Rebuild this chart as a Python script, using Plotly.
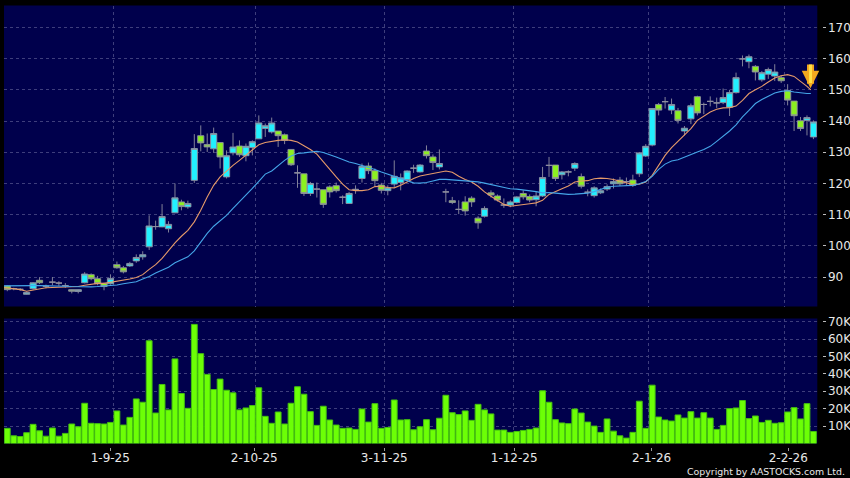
import plotly.graph_objects as go

opens = [87.2,86.3,86.1,84.5,86.3,89.0,87.1,88.4,88.1,87.3,86.0,85.4,88.2,90.8,89.5,88.0,87.9,94.0,93.0,93.6,95.2,96.5,
 99.7,106.2,106.1,105.5,110.6,114.1,112.5,121.0,135.3,132.5,131.1,133.1,122.1,129.8,132.0,128.9,131.5,134.3,137.6,136.5,
 136.8,135.6,130.9,123.4,123.1,116.8,118.2,118.0,118.9,119.3,115.6,113.6,118.1,121.6,125.6,124.1,119.5,117.7,119.8,120.3,
 121.2,124.9,123.7,130.4,128.5,125.3,117.3,114.5,111.7,114.1,115.3,108.9,109.5,117.0,116.0,113.1,113.1,113.9,116.8,115.8,
 114.8,116.0,125.8,125.9,122.8,123.7,124.9,122.2,117.2,116.1,117.0,118.2,119.9,121.1,120.6,121.1,123.1,128.8,132.3,145.3,
 146.2,143.5,143.3,136.8,140.7,147.8,145.3,146.3,145.8,145.9,144.4,149.1,159.9,159.0,157.5,153.2,155.0,154.4,153.9,149.8,
 146.4,140.1,140.2,134.9]
closes = [86.0,86.3,86.1,85.1,88.2,88.2,87.1,88.4,88.1,87.3,85.5,86.0,91.0,89.5,87.9,87.0,89.6,93.0,91.7,94.4,96.3,97.2,
 106.4,106.2,109.4,106.9,115.4,112.6,113.6,131.2,133.0,131.7,136.0,128.5,128.9,131.7,129.2,131.9,133.4,139.4,138.5,139.4,
 135.3,133.8,126.0,123.4,116.8,120.0,118.2,113.3,117.3,117.7,115.6,116.8,118.1,125.5,124.1,120.9,117.8,118.6,122.3,121.8,
 124.0,124.9,125.9,128.9,126.7,126.4,117.3,113.9,111.7,111.2,114.1,107.4,112.0,116.3,114.7,113.1,114.1,115.7,115.7,114.7,
 116.0,121.9,125.8,121.6,123.7,123.7,126.4,119.1,117.2,118.6,117.7,119.0,120.6,119.9,120.6,119.4,129.8,131.9,144.0,143.5,
 146.2,145.3,140.2,137.7,144.9,142.6,145.3,146.3,145.8,147.5,149.1,153.9,159.9,160.6,155.7,155.5,156.5,155.7,152.9,146.7,
 141.7,137.6,141.1,139.7]
highs = [87.4,86.6,86.5,85.4,88.4,90.0,87.6,90.0,88.7,88.1,86.1,86.1,91.6,91.2,90.4,88.2,90.9,95.0,93.6,94.9,97.3,98.3,
 109.8,108.1,113.4,107.9,120.0,114.8,114.5,135.8,138.6,136.0,137.9,133.1,130.6,136.2,133.8,132.8,133.8,141.8,139.2,141.1,
 136.8,136.0,130.9,125.8,123.1,120.5,120.3,118.0,119.4,120.3,116.2,117.3,119.4,126.4,126.7,124.8,120.2,119.4,127.4,123.2,
 124.2,126.0,126.2,132.2,129.3,130.9,118.3,115.7,114.6,115.9,115.9,109.5,112.7,117.8,116.5,115.2,114.6,115.9,117.8,116.5,
 117.3,125.3,128.5,125.9,124.0,124.2,126.8,123.2,118.1,119.1,118.4,119.7,121.6,122.1,121.9,122.8,130.1,132.6,144.0,145.8,
 147.7,147.2,144.2,138.4,145.6,148.1,145.9,147.9,147.5,150.4,150.0,155.5,161.0,161.3,157.9,156.0,157.1,158.2,154.7,151.8,
 146.4,141.3,141.8,140.2]
lows = [85.5,85.8,85.6,84.4,86.0,87.8,86.4,87.4,87.2,86.6,84.8,84.8,88.0,89.0,87.4,85.8,87.6,92.7,91.2,93.3,94.6,95.6,
 98.7,105.2,106.0,104.3,110.5,111.4,111.9,120.2,130.3,130.1,129.8,124.8,121.6,129.0,128.5,127.1,129.0,134.3,134.9,136.0,
 131.7,132.6,125.6,118.6,116.0,116.0,115.5,112.2,115.5,117.1,113.4,113.5,116.7,120.3,123.0,119.1,116.8,116.2,118.9,117.8,
 120.7,123.4,123.5,128.0,124.3,124.5,114.0,113.4,110.2,109.7,112.5,105.5,109.1,115.5,114.2,112.2,112.4,113.6,114.9,114.0,
 112.7,115.7,122.1,120.8,121.3,122.3,124.0,118.4,115.9,115.5,116.6,117.6,118.4,119.2,119.3,118.9,122.1,128.5,131.9,141.8,
 144.0,142.2,139.2,135.4,139.0,141.8,142.2,144.7,144.2,145.4,141.6,148.8,157.5,156.9,153.0,152.6,153.5,152.8,152.2,145.0,
 136.8,136.8,135.4,134.2]
volumes = [8.7,4.4,4.0,6.2,11,7.3,4.2,8.9,4.2,5.8,11.2,9.6,23.1,11.6,11.4,11.2,12.1,18.7,10.6,15,25.6,23.7,59,17.5,33.9,19.3,
 48.6,28.7,20.2,68.4,51.6,39.7,31,37,30.6,29.1,19.3,20.4,21.8,32,15.6,11.6,18.1,11.2,23.1,32.6,28.3,18.3,10.4,21.4,13.5,10.6,
 8.7,8.9,8.1,19.8,12.3,22.9,8.7,9.2,25,13.5,13.7,7.9,9.6,13.7,7.9,14.5,27.7,17.7,16.6,18.7,13.3,22.5,19.3,17,7.7,7.7,6.4,6.9,
 7.5,8.1,8.9,30.3,23.7,13.7,11.8,11.4,19.8,17.5,12.3,10,6.4,14.1,7.1,4.4,3.1,6.4,24.3,8.7,33.5,15.2,13.5,12.9,16.4,14.6,18.3,
 14.6,17.7,14.6,8.1,10.4,20,20.4,24.7,14.3,15.8,12.1,13.3,11.6,11.9,18.1,20.6,14.1,22.9,6.9]
ma_fast = [86.7,86.4,86.0,85.5,85.9,86.3,86.6,86.7,86.8,87.0,87.0,87.0,87.4,87.8,88.0,88.0,88.3,88.7,89.0,89.4,89.9,90.8,92.5,
 94.0,96.0,98.6,101.0,103.1,105.0,107.7,111.4,115.7,119.4,122.1,124.0,125.8,127.4,129.0,130.8,132.4,133.1,133.5,133.8,134.0,
 133.8,133.3,132.2,130.9,129.4,126.9,124.5,122.1,119.8,118.0,117.7,117.7,118.0,119.0,119.1,118.7,118.6,119.4,120.5,121.6,
 122.4,122.8,123.2,123.7,124.0,123.6,122.3,121.3,120.5,119.1,117.3,115.9,114.6,113.3,112.7,112.9,113.3,113.5,113.8,114.6,
 116.5,117.3,118.3,119.2,120.5,120.8,120.9,121.5,121.7,121.6,121.3,120.7,120.2,119.7,119.8,120.5,122.6,125.8,129.0,131.5,
 133.6,135.4,137.6,140.2,141.7,142.9,143.8,144.2,144.3,144.8,146.6,148.8,150.0,151.1,152.5,153.8,154.5,154.85,154.3,152.8,
 151.1,150.0]
ma_slow = [87.2,87.3,87.3,87.3,87.3,87.3,87.3,87.2,87.2,87.1,87.0,86.9,86.9,86.9,87.0,87.1,87.3,87.5,87.9,88.1,88.5,89.4,90.2,
 91.3,92.2,93.2,94.6,95.6,96.5,98.4,101.3,104.0,106.3,108.0,109.8,112.0,114.1,116.0,118.4,120.7,123.0,124.0,125.8,127.4,128.8,
 129.6,129.8,130.0,130.3,129.9,129.3,128.5,127.7,126.9,126.4,125.8,125.1,124.5,123.7,123.0,122.3,121.6,120.7,120.2,120.1,
 120.3,120.8,121.3,121.3,121.15,121.05,120.9,120.7,120.5,120.1,119.7,119.2,118.7,118.3,118.2,118.0,117.7,117.4,117.0,117.1,
 116.9,116.6,116.5,116.6,116.7,116.9,117.4,118.2,118.8,119.1,119.2,119.2,119.4,119.9,120.6,122.3,124.5,126.2,127.2,127.6,
 128.5,129.4,130.1,130.9,131.9,133.5,135.1,136.8,138.8,141.3,143.4,145.6,146.9,147.9,149.0,149.5,149.7,149.3,149.0,148.8,148.8]
price_ticks = [90,100,110,120,130,140,150,160,170]
volume_ticks = [10,20,30,40,50,60,70]
volume_labels = ["10K","20K","30K","40K","50K","60K","70K"]
date_labels = ["1-9-25","2-10-25","3-11-25","1-12-25","2-1-26","2-2-26"]
date_positions = [15.97,38.3,58.45,78.6,99.9,121.1]
date_grid = [16.45,38.5,58.45,78.45,99.5,120.47]

W, H = 850, 478
PX0, PX1 = 4.0, 817.3
n = len(closes)
idx = list(range(n))
ma_x = [-0.5] + idx[1:-1] + [124.6]

NAVY = "#00004c"
GRID = "#3e3e7c"
WICK = "#9090a0"
TXT = "#e8e8e8"
FONT = "DejaVu Sans"

fig = go.Figure()
fig.add_trace(go.Candlestick(x=idx, open=opens, high=highs, low=lows, close=closes,
    whiskerwidth=0,
    increasing=dict(line=dict(color=WICK, width=0.9), fillcolor="#22f0ff"),
    decreasing=dict(line=dict(color=WICK, width=0.9), fillcolor="#8cf020"),
    hoverinfo="skip", xaxis="x2", yaxis="y2", showlegend=False))
fig.add_trace(go.Scatter(x=ma_x, y=ma_fast, mode="lines", line=dict(color="#e59a6a", width=1.1),
    xaxis="x2", yaxis="y2", showlegend=False, hoverinfo="skip"))
fig.add_trace(go.Scatter(x=ma_x, y=ma_slow, mode="lines", line=dict(color="#45a5e8", width=1.1),
    xaxis="x2", yaxis="y2", showlegend=False, hoverinfo="skip"))
fig.add_trace(go.Bar(x=idx, y=volumes, width=0.9,
    marker=dict(color="#6cff06", line=dict(color="#44c010", width=1)),
    xaxis="x", yaxis="y", showlegend=False, hoverinfo="skip"))

xrange = [-0.51, 125.6]
common_x = dict(range=xrange, showgrid=False, zeroline=False, showline=False,
    domain=[PX0/W, PX1/W],
    minor=dict(tickvals=date_grid, showgrid=True, gridcolor=GRID, griddash="3px,3px", gridwidth=1, ticks=""))
common_y = dict(side="right", anchor="free", position=821.5/W, showline=True, linecolor="rgba(0,0,0,0)",
    linewidth=0, zeroline=False,
    showgrid=True, gridcolor=GRID, griddash="3px,3px", gridwidth=1,
    ticks="outside", ticklen=3, tickcolor="#bbbbbb", tickwidth=1,
    tickfont=dict(family=FONT, size=12, color=TXT))

fig.update_layout(
    width=W, height=H, margin=dict(l=0, r=0, t=0, b=0, autoexpand=False), autosize=False,
    paper_bgcolor="#000000", plot_bgcolor=NAVY, boxgap=0.04, boxgroupgap=0, bargap=0.1, showlegend=False,
    font=dict(family=FONT, color=TXT),
    xaxis=dict(common_x, anchor="free", position=1-446.7/H, tickmode="array", tickvals=date_positions,
        ticktext=date_labels, ticks="outside", ticklen=3, tickcolor="#999999", tickwidth=1, ticklabelstandoff=-3,
        tickfont=dict(family=FONT, size=12, color=TXT)),
    xaxis2=dict(common_x, anchor="y2", showticklabels=False, ticks="", rangeslider=dict(visible=False), matches="x"),
    yaxis=dict(common_y, domain=[1-443.5/H, 1-318.5/H], range=[0, 71.8], tickmode="array",
        tickvals=volume_ticks, ticktext=volume_labels),
    yaxis2=dict(common_y, domain=[1-306.5/H, 1-5.5/H], range=[80.6, 177.0], tickmode="array",
        tickvals=price_ticks),
    annotations=[
        dict(text="Copyright by AASTOCKS.com Ltd.", xref="paper", yref="paper", x=846.5/W, y=1-471/H,
             xanchor="right", yanchor="middle", showarrow=False, font=dict(family=FONT, size=9.4, color=TXT)),
        dict(x=124.55, y=150.5, xref="x2", yref="y2", ax=124.55, ay=158.6, axref="x2", ayref="y2",
             text="", showarrow=True, arrowhead=2, arrowsize=0.5, arrowwidth=7, arrowcolor="#f3a91f"),
        dict(x=124.55, y=152.2, xref="x2", yref="y2", ax=124.55, ay=158.6, axref="x2", ayref="y2",
             text="", showarrow=True, arrowhead=0, arrowwidth=3, arrowcolor="#ffdf45"),
    ],
)
fig.write_html("out.html", config=dict(displayModeBar=False), post_script="document.body.style.margin='0';document.body.style.overflow='hidden';")
